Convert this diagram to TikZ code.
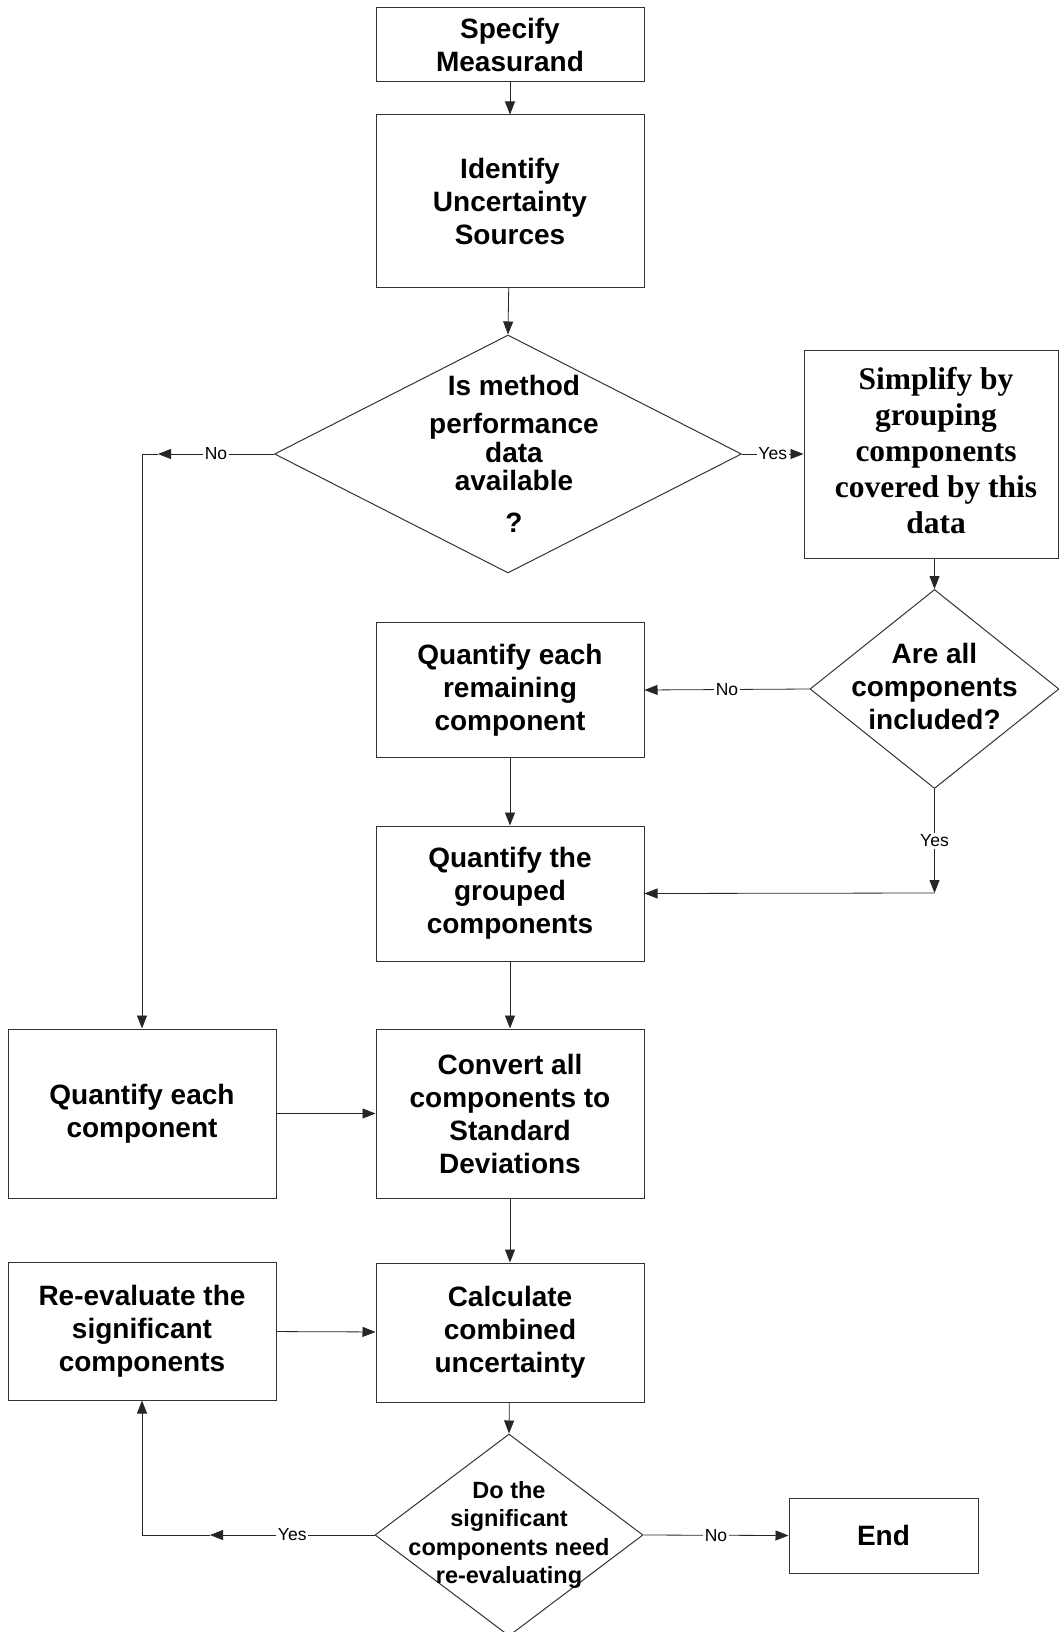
\documentclass[tikz,border=0pt]{standalone}
\usepackage{fontspec}
\setmainfont{Liberation Sans}
\newfontfamily\timesbf{Liberation Serif}
\usetikzlibrary{shapes.geometric,arrows.meta}

\begin{document}
\begin{tikzpicture}[x=1pt, y=-1pt,
    procbox/.style={draw=black!80, line width=1pt, align=center, inner sep=0pt,
      minimum width=268pt, font=\fontsize{28}{33}\selectfont\bfseries},
    decision/.style={diamond, draw=black!80, line width=1pt, inner sep=0pt},
    dtext/.style={align=center, inner sep=0pt, font=\fontsize{28}{33}\selectfont\bfseries},
    flow/.style={draw=black!85, line width=0.8pt, -{Triangle[length=13pt,width=10pt]}},
    plain/.style={draw=black!85, line width=0.8pt},
    lbl/.style={fill=white, inner sep=1.5pt, font=\fontsize{17.5}{20}\selectfont}]
    \useasboundingbox (0,0) rectangle (1059,1632);

    % CENTRAL COLUMN
    \node[procbox, minimum height=74pt] (spec) at (510,45) {Specify\\Measurand};
    \node[procbox, minimum height=172pt] (ident) at (510,201) {Identify\\Uncertainty\\Sources};
    \node[decision, minimum width=467pt, minimum height=238pt,
      label={[dtext, xshift=6pt]center:{Is method\\[5pt]performance\\[-4pt]data\\[-5pt]available\\[9pt]?}}]
      (perf) at (508,454) {};
    \node[procbox, minimum height=135pt] (remain) at (510,690) {Quantify each\\remaining\\component};
    \node[procbox, minimum height=135pt] (group) at (510,893.5) {Quantify the\\grouped\\components};
    \node[procbox, minimum height=169pt] (conv) at (510,1113.5) {Convert all\\components to\\Standard\\Deviations};
    \node[procbox, minimum height=139pt] (calc) at (510,1332.5) {Calculate\\combined\\uncertainty};
    \node[decision, minimum width=268pt, minimum height=202pt,
      label={[dtext, font=\fontsize{23.5}{28.5}\selectfont\bfseries]center:{Do the\\significant\\components need\\re-evaluating}}]
      (reeval) at (509,1535) {};

    % RIGHT BRANCH
    \node[draw=black!80, line width=1pt, minimum width=254pt, minimum height=208pt,
      label={[align=center, inner sep=0pt, xshift=5pt, yshift=3pt,
        font=\fontsize{31.5}{36}\selectfont\timesbf\bfseries]center:{Simplify by\\grouping\\components\\covered by this\\data}}]
      (simp) at (931,454) {};
    \node[decision, minimum width=249pt, minimum height=199pt,
      label={[dtext, yshift=3pt]center:{Are all\\components\\included?}}]
      (allin) at (934.5,689) {};
    \node[procbox, minimum width=189pt, minimum height=75pt] (end) at (883.5,1535.5) {End};

    % LEFT BRANCH
    \node[procbox, minimum height=169pt] (each) at (142,1113.5) {Quantify each\\component};
    \node[procbox, minimum height=138pt] (again) at (142,1331) {Re-evaluate the\\significant\\components};

    \coordinate (notip) at (158,454);
    \coordinate (yescorner) at (934.5,893);
    \coordinate (yestip) at (210,1535);

    \draw[flow] (spec) -- (ident);
    \draw[flow] (ident) -- (perf.north);
    \draw[flow] (perf.east) -- node[lbl]{Yes} (simp.west);
    \draw[flow] (perf.west) -- node[lbl]{No} (notip);
    \draw[plain] (notip) -- (each.north |- notip);
    \draw[flow] (each.north |- notip) -- (each.north);
    \draw[flow] (allin.north |- simp.south) -- (allin.north);
    \draw[flow] (allin.west) -- node[lbl]{No} (remain.east);
    \draw[flow] (allin.south) -- node[lbl]{Yes} (yescorner);
    \draw[flow] (yescorner) -- (group.east);
    \draw[flow] (remain) -- (group);
    \draw[flow] (group) -- (conv);
    \draw[flow] (each) -- (conv);
    \draw[flow] (conv) -- (calc);
    \draw[flow] (again) -- (calc);
    \draw[flow] (calc) -- (reeval.north);
    \draw[flow] (reeval.east) -- node[lbl]{No} (end.west);
    \draw[flow] (reeval.west) -- node[lbl]{Yes} (yestip);
    \draw[plain] (yestip) -- (again.south |- yestip);
    \draw[flow] (again.south |- yestip) -- (again.south);
\end{tikzpicture}
\end{document}
